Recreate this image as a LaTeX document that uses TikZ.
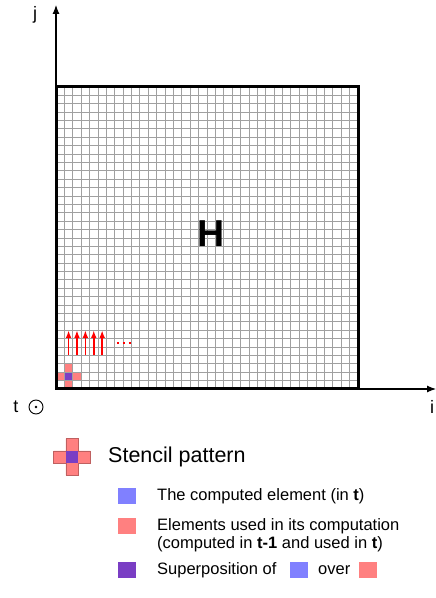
\documentclass[tikz,border=0pt]{standalone}
\usepackage{fontspec}
\setmainfont{Liberation Sans}
\usetikzlibrary{arrows.meta, positioning}
\definecolor{compblue}{RGB}{128,128,255}
\definecolor{usedred}{RGB}{255,128,128}
\definecolor{superpurple}{RGB}{122,62,196}
\definecolor{gridgray}{RGB}{160,160,160}
\tikzset{gridline/.style={draw=gridgray, line width=0.9pt},
    hborder/.style={draw=black, line width=3pt},
    axisline/.style={draw=black, line width=1.1pt, -{Latex[length=9pt,width=7pt]}},
    stencilarrow/.style={draw=red, line width=1.5pt, -{Latex[length=7.5pt,width=5.5pt]}},
    legsq/.style={rectangle, minimum width=18pt, minimum height=16pt, inner sep=0pt},
    legtext/.style={anchor=west, font=\fontsize{16.5}{18}\selectfont, inner sep=0pt}}

\begin{document}
\begin{tikzpicture}[x=1pt, y=1pt, every node/.style={inner sep=0pt}]
  \useasboundingbox (0,0) rectangle (436,598);

  % Axes
  \coordinate (origin) at (56,209);
  \coordinate (jtip) at (56,593);
  \coordinate (itip) at (436,209);
  \draw[axisline] (origin) -- (jtip);
  \draw[axisline] (origin) -- (itip);
  \node[font=\fontsize{18}{18}\selectfont] (jlabel) at (35,583) {j};
  \node[font=\fontsize{18}{18}\selectfont] (ilabel) at (432,191) {i};
  \node[font=\fontsize{18}{18}\selectfont] (tlabel) at (16,191) {t};
  \node[circle, draw=black, line width=0.9pt, minimum size=14pt] (tout) at (36,191) {};
  \fill (tout.center) circle (1.3pt);

  % Matrix H, 36 x 36 cells
  \begin{scope}[shift={(56pt,209pt)}, x=8.39pt, y=8.39pt]
    \fill[usedred] (0,1) rectangle (3,2);
    \fill[usedred] (1,0) rectangle (2,3);
    \fill[superpurple] (1,1) rectangle (2,2);
    \draw[gridline, step=1] (0,0) grid (36,36);
    \draw[hborder] (0,0) rectangle (36,36);
    \foreach \c in {1,...,5}
      \draw[stencilarrow] (\c+0.5,4) -- (\c+0.5,7);
    \draw[red, line width=2pt, dash pattern=on 2.5pt off 3.5pt] (7.27,5.48) -- (9.12,5.48);
    \node[font=\bfseries\fontsize{37.5}{37.5}\selectfont] (hname) at (18.47,18.47) {H};
  \end{scope}

  % Legend
  \begin{scope}[shift={(72pt,141pt)}, x=12.3pt, y=12.3pt]
    \filldraw[fill=usedred, draw=usedred!75!black, line width=0.4pt]
      (-1.5,-0.5) -- (-0.5,-0.5) -- (-0.5,-1.5) -- (0.5,-1.5) -- (0.5,-0.5) -- (1.5,-0.5)
      -- (1.5,0.5) -- (0.5,0.5) -- (0.5,1.5) -- (-0.5,1.5) -- (-0.5,0.5) -- (-1.5,0.5) -- cycle;
    \fill[superpurple] (-0.5,-0.5) rectangle (0.5,0.5);
  \end{scope}
  \node[anchor=west, font=\fontsize{21.5}{21.5}\selectfont] (stenciltext) at (108,141) {Stencil pattern};

  \node[legsq, fill=compblue] (bluekey) at (127,102) {};
  \node[legtext] (bluetext) at (157,102) {The computed element (in \textbf{t})};
  \node[legsq, fill=usedred] (redkey) at (127,72) {};
  \node[legtext] (redtext) at (157,71.5) {Elements used in its computation};
  \node[legtext] (redtexttwo) at (157,53.5) {(computed in \textbf{t-1} and used in \textbf{t})};
  \node[legsq, fill=superpurple] (purplekey) at (127,28) {};
  \node[legtext] (purpletext) at (157,28) {Superposition of};
  \node[legsq, fill=compblue] (bluekeytwo) at (299,28) {};
  \node[legtext] (overtext) at (318,28) {over};
  \node[legsq, fill=usedred] (redkeytwo) at (367.5,28) {};
\end{tikzpicture}
\end{document}
